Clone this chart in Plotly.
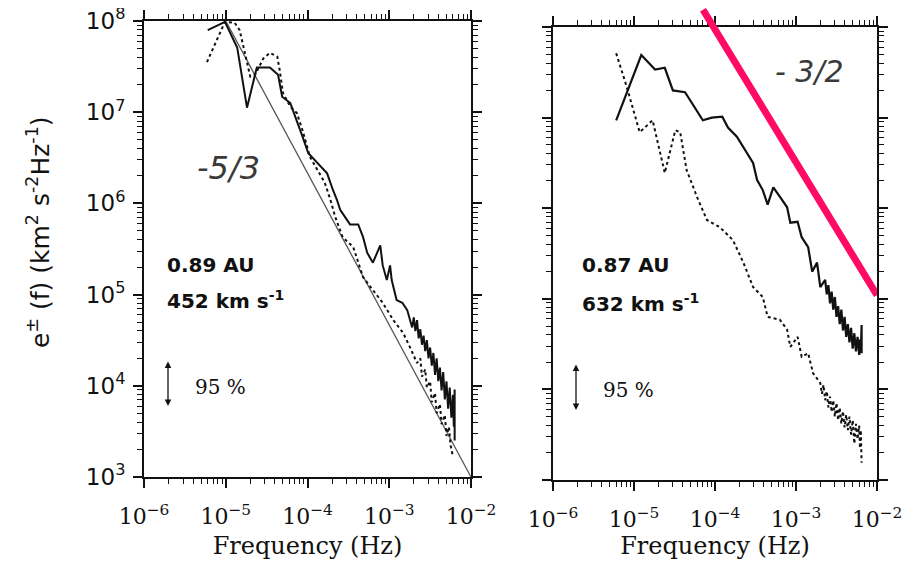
import numpy as np
import plotly.graph_objects as go

# ---------------- data (log10 values) ----------------
left_solid_logf = [-5.22, -5.01, -4.86, -4.74, -4.62, -4.46, -4.36, -4.31, -4.21, -4.13, -4.06, -3.99,
                   -3.88, -3.76, -3.69, -3.64, -3.60, -3.48, -3.38, -3.32, -3.27, -3.20, -3.11, -3.08,
                   -3.03, -2.99, -2.97, -2.91, -2.84, -2.78, -2.72, -2.70, -2.68, -2.66, -2.64, -2.62,
                   -2.60, -2.58, -2.56, -2.54, -2.52, -2.50, -2.48, -2.46, -2.44, -2.42, -2.40, -2.38,
                   -2.36, -2.34, -2.32, -2.30, -2.28, -2.26, -2.24, -2.22, -2.21, -2.20, -2.20]
left_solid_logE = [7.90, 7.99, 7.71, 7.05, 7.49, 7.49, 7.41, 7.17, 7.10, 6.91, 6.73, 6.55,
                   6.45, 6.33, 6.15, 6.04, 5.93, 5.77, 5.77, 5.63, 5.46, 5.35, 5.54, 5.32,
                   5.16, 5.32, 5.16, 4.94, 4.91, 4.83, 4.64, 4.75, 4.60, 4.72, 4.52, 4.62,
                   4.45, 4.55, 4.38, 4.50, 4.30, 4.42, 4.22, 4.36, 4.12, 4.30, 4.05, 4.20,
                   3.95, 4.15, 3.85, 4.05, 3.75, 3.98, 3.65, 3.90, 3.55, 3.96, 3.40]

left_dot_logf = [-5.23, -5.01, -4.89, -4.83, -4.70, -4.64, -4.54, -4.46, -4.37, -4.34, -4.30, -4.21,
                 -4.13, -4.06, -3.97, -3.88, -3.79, -3.72, -3.66, -3.57, -3.44, -3.32, -3.20, -3.08,
                 -2.95, -2.83, -2.75, -2.66, -2.62, -2.60, -2.56, -2.54, -2.50, -2.48, -2.44, -2.42,
                 -2.38, -2.36, -2.32, -2.30, -2.27, -2.25, -2.22]
left_dot_logE = [7.55, 7.99, 7.98, 7.90, 7.39, 7.41, 7.59, 7.65, 7.61, 7.46, 7.21, 7.06,
                 6.99, 6.80, 6.51, 6.37, 6.23, 6.04, 5.85, 5.63, 5.52, 5.19, 5.05, 4.91,
                 4.72, 4.58, 4.43, 4.25, 4.30, 4.10, 4.18, 3.98, 4.05, 3.82, 3.92, 3.70,
                 3.80, 3.58, 3.68, 3.45, 3.55, 3.35, 3.22]

left_ref_logf = [-5.0, -2.0]      # -5/3 reference line
left_ref_logE = [8.0, 3.0]

right_solid_logf = [-5.22, -4.91, -4.74, -4.62, -4.52, -4.37, -4.15, -4.04, -3.91, -3.84, -3.73, -3.65,
                    -3.53, -3.48, -3.41, -3.35, -3.28, -3.17, -3.11, -3.07, -2.98, -2.93, -2.85, -2.80,
                    -2.74, -2.70, -2.64, -2.62, -2.60, -2.58, -2.56, -2.54, -2.52, -2.50, -2.48, -2.46,
                    -2.44, -2.42, -2.40, -2.38, -2.36, -2.34, -2.32, -2.30, -2.28, -2.26, -2.24, -2.22,
                    -2.21, -2.20, -2.19, -2.19]
right_solid_logE = [6.97, 7.69, 7.53, 7.55, 7.30, 7.28, 6.97, 7.00, 7.01, 6.89, 6.79, 6.68,
                    6.50, 6.31, 6.20, 6.04, 6.23, 6.09, 6.01, 5.84, 5.85, 5.68, 5.57, 5.30,
                    5.40, 5.13, 5.21, 5.05, 5.15, 4.95, 5.08, 4.88, 5.02, 4.80, 4.92, 4.72,
                    4.88, 4.65, 4.80, 4.58, 4.72, 4.52, 4.68, 4.45, 4.62, 4.42, 4.58, 4.38,
                    4.55, 4.40, 4.71, 4.40]

right_dot_logf = [-5.22, -5.09, -4.93, -4.77, -4.62, -4.49, -4.43, -4.35, -4.22, -4.10, -3.94, -3.78,
                  -3.65, -3.53, -3.41, -3.35, -3.20, -3.11, -3.07, -2.98, -2.93, -2.85, -2.79, -2.70,
                  -2.68, -2.66, -2.64, -2.62, -2.60, -2.58, -2.56, -2.54, -2.52, -2.50, -2.48, -2.46,
                  -2.44, -2.42, -2.40, -2.38, -2.36, -2.34, -2.32, -2.30, -2.28, -2.26, -2.24, -2.22,
                  -2.21, -2.20, -2.19]
right_dot_logE = [7.71, 7.34, 6.84, 6.97, 6.39, 6.86, 6.84, 6.42, 6.12, 5.87, 5.79, 5.65,
                  5.40, 5.13, 5.02, 4.80, 4.77, 4.66, 4.47, 4.58, 4.36, 4.40, 4.18, 4.07,
                  3.95, 4.05, 3.88, 3.98, 3.80, 3.92, 3.75, 3.88, 3.70, 3.85, 3.66, 3.80,
                  3.62, 3.76, 3.58, 3.72, 3.55, 3.70, 3.50, 3.66, 3.40, 3.62, 3.45, 3.60,
                  3.35, 3.55, 3.19]

pink_logf = [-4.148, -2.0]        # hand-drawn -3/2 line
pink_logE = [8.19, 5.04]

x_tickvals = [1e-6, 1e-5, 1e-4, 1e-3, 1e-2]
x_ticktext = ["10<sup>−6</sup>", "10<sup>−5</sup>", "10<sup>−4</sup>", "10<sup>−3</sup>", "10<sup>−2</sup>"]
y_tickvals = [1e3, 1e4, 1e5, 1e6, 1e7, 1e8]
y_ticktext = ["10<sup>3</sup>", "10<sup>4</sup>", "10<sup>5</sup>", "10<sup>6</sup>", "10<sup>7</sup>", "10<sup>8</sup>"]


def p(v):
    return np.power(10.0, np.array(v))


# ---------------- layout geometry ----------------
OFF = 8                      # page body margin
W, H = 922 - 2 * OFF, 568 - 2 * OFF
def px_x(px):
    return (px - OFF) / W
def px_y(py):
    return 1 - (py - OFF) / H

L_dom_x = [px_x(144), px_x(471)]
L_dom_y = [px_y(477), px_y(21)]
R_dom_x = [px_x(553), px_x(877)]
R_dom_y = [px_y(480), px_y(27)]
R_px_per_dec = (480 - 27) / 5.0

minor_x = [m * 10.0 ** e for e in range(-6, -2) for m in range(2, 10)]
minor_y = [m * 10.0 ** e for e in range(3, 8) for m in range(2, 10)]

fig = go.Figure()

black = "#111111"
fig.add_trace(go.Scatter(x=p(left_ref_logf), y=p(left_ref_logE), mode="lines",
                         line=dict(color="#555555", width=1.3), xaxis="x", yaxis="y"))
fig.add_trace(go.Scatter(x=p(left_dot_logf), y=p(left_dot_logE), mode="lines",
                         line=dict(color=black, width=2, dash="dot"), xaxis="x", yaxis="y"))
fig.add_trace(go.Scatter(x=p(left_solid_logf), y=p(left_solid_logE), mode="lines",
                         line=dict(color=black, width=2), xaxis="x", yaxis="y"))
fig.add_trace(go.Scatter(x=p(right_dot_logf), y=p(right_dot_logE), mode="lines",
                         line=dict(color=black, width=2, dash="dot"), xaxis="x2", yaxis="y2"))
fig.add_trace(go.Scatter(x=p(right_solid_logf), y=p(right_solid_logE), mode="lines",
                         line=dict(color=black, width=2.2), xaxis="x2", yaxis="y2"))
fig.add_trace(go.Scatter(x=p(pink_logf), y=p(pink_logE), mode="lines",
                         line=dict(color="#FF0A64", width=7), xaxis="x3", yaxis="y3"))

tick_font_x = dict(family="DejaVu Serif", size=22, color=black)
tick_font_y = dict(family="DejaVu Sans", size=23, color=black)

def xaxis(dom, anchor):
    return dict(type="log", range=[-6, -2], domain=dom, anchor=anchor, automargin=False,
                showline=True, linecolor=black, linewidth=2, mirror="allticks",
                ticks="outside", ticklen=9, tickwidth=1.5, tickcolor=black,
                tickvals=x_tickvals, ticktext=x_ticktext, tickfont=tick_font_x,
                ticklabelstandoff=10, ticklabeloverflow="allow",
                minor=dict(tickmode="array", tickvals=minor_x, ticks="outside",
                           ticklen=5, tickwidth=1.2, tickcolor=black, showgrid=False),
                showgrid=False, zeroline=False,
                title=dict(text="Frequency (Hz)", font=dict(family="DejaVu Serif", size=24, color=black),
                           standoff=10))

def yaxis(dom, anchor, labels):
    return dict(type="log", range=[3, 8], domain=dom, anchor=anchor, automargin=False,
                showline=True, linecolor=black, linewidth=2, mirror="allticks",
                ticks="outside", ticklen=9, tickwidth=1.5, tickcolor=black,
                tickvals=y_tickvals, ticktext=y_ticktext, tickfont=tick_font_y,
                showticklabels=labels, ticklabelstandoff=3, ticklabeloverflow="allow",
                minor=dict(tickmode="array", tickvals=minor_y, ticks="outside",
                           ticklen=5, tickwidth=1.2, tickcolor=black, showgrid=False),
                showgrid=False, zeroline=False)

fig.update_layout(
    width=W, height=H, autosize=False,
    margin=dict(l=0, r=0, t=0, b=0, autoexpand=False),
    paper_bgcolor="white", plot_bgcolor="rgba(0,0,0,0)",
    showlegend=False,
    xaxis=xaxis(L_dom_x, "y"),
    yaxis=yaxis(L_dom_y, "x", True),
    xaxis2=xaxis(R_dom_x, "y2"),
    yaxis2=yaxis(R_dom_y, "x2", False),
    xaxis3=dict(type="log", range=[-6, -2], domain=R_dom_x, anchor="y3", visible=False, automargin=False),
    yaxis3=dict(type="log", range=[3, 8 + (27 - OFF) / R_px_per_dec], domain=[R_dom_y[0], 1.0],
                anchor="x3", visible=False, automargin=False),
)

ann_font_b = dict(family="DejaVu Sans", size=20, color=black)
annotations = [
    dict(text="e<sup>±</sup> (f) (km<sup>2</sup> s<sup>-2</sup>Hz<sup>-1</sup>)", textangle=-90,
         x=px_x(38), y=px_y(232), font=dict(family="DejaVu Sans", size=25, color=black)),
    dict(text="<i>-5/3</i>", x=px_x(228), y=px_y(168), font=dict(family="DejaVu Sans", size=32, color="#3a3a3a")),
    dict(text="<i>- 3/2</i>", x=px_x(809), y=px_y(72), font=dict(family="DejaVu Sans", size=30, color="#3a3a3a")),
    dict(text="<b>0.89 AU</b>", x=px_x(165), y=px_y(265), xanchor="left", font=ann_font_b),
    dict(text="<b>452 km s<sup>-1</sup></b>", x=px_x(165), y=px_y(300), xanchor="left", font=ann_font_b),
    dict(text="<b>0.87 AU</b>", x=px_x(580), y=px_y(265), xanchor="left", font=ann_font_b),
    dict(text="<b>632 km s<sup>-1</sup></b>", x=px_x(580), y=px_y(303), xanchor="left", font=ann_font_b),
    dict(text="95 %", x=px_x(193), y=px_y(387), xanchor="left", font=dict(family="DejaVu Serif", size=20, color=black)),
    dict(text="95 %", x=px_x(601), y=px_y(390), xanchor="left", font=dict(family="DejaVu Serif", size=20, color=black)),
]
for a in annotations:
    a.update(xref="paper", yref="paper", showarrow=False, yanchor="middle")
    a.setdefault("xanchor", "center")

# double-headed 95% arrows
for xa, y1, y2 in [(168, 360, 406), (576, 363, 410)]:
    annotations.append(dict(text="", xref="paper", yref="paper", x=px_x(xa), y=px_y(y2),
                            ax=0, ay=-(y2 - y1), axref="pixel", ayref="pixel",
                            showarrow=True, arrowhead=2, startarrowhead=2, arrowside="end+start",
                            arrowsize=1, arrowwidth=1.3, arrowcolor=black))

fig.update_layout(annotations=annotations)

fig.write_html("out.html")
